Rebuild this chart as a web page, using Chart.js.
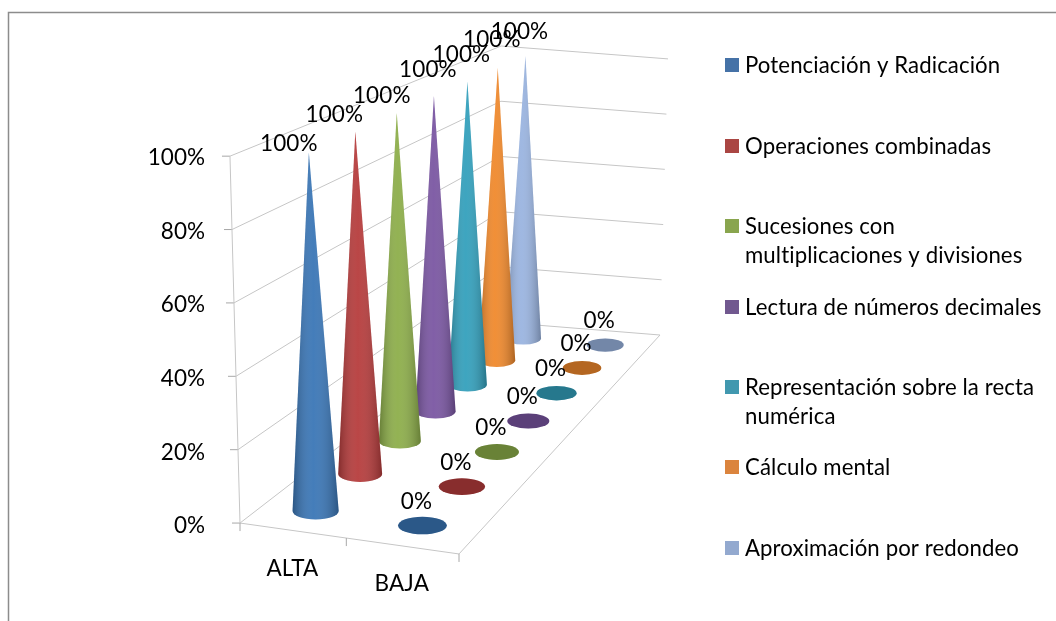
<!DOCTYPE html>
<html lang="es">
<head>
<meta charset="UTF-8">
<title>Cone chart</title>
<script src="https://cdn.jsdelivr.net/npm/chart.js"></script>
<style>
  html, body { margin: 0; padding: 0; background: #fff; }
  canvas { display: block; filter: blur(0.3px); }
</style>
</head>
<body>
<canvas id="myChart" width="1056" height="621"></canvas>
<script>
const categories = ['ALTA', 'BAJA'];
const seriesNames = [
  ['Potenciación y Radicación'],
  ['Operaciones combinadas'],
  ['Sucesiones con', 'multiplicaciones y divisiones'],
  ['Lectura de números decimales'],
  ['Representación sobre la recta', 'numérica'],
  ['Cálculo mental'],
  ['Aproximación por redondeo']
];
const altaValues = [100, 100, 100, 100, 100, 100, 100];
const bajaValues = [0, 0, 0, 0, 0, 0, 0];
const yTicks = [0, 20, 40, 60, 80, 100];

const coneColors = ['#3a76b6', '#b63c3c', '#8dae4a', '#7a56a2', '#33a0bc', '#f0892c', '#9ab4e0'];
const legendColors = ['#4572a7', '#aa4643', '#89a54e', '#71588f', '#4198af', '#db843d', '#93a9cf'];
const legendRows = [66, 147, 227, 308, 388, 468, 549];
// Excel moved the 100% labels by hand-ish amounts, so they get their own nudges
const topLabelNudge = [[-20, -9], [-21, -17], [-15, -17], [-6, -26], [-6, -27], [-6, -28], [-6, -24]];
const LABEL_FONT = '22.5px Lato';
const LEGEND_FONT = '22.2px Lato';

// box corners in scale units: plane axis for x, percent axis for y
const floorFrontLeft = [30, 0.8];
const floorFrontRight = [249, -7.6];
const floorBackRight = [450, 51.9];
const floorBackLeft = [290, 55.4];
const frontHeight = 99.7;   // how tall 100% is on the front corner, in percent units
const heightFalloff = 0.78; // walls shrink less with depth than the floor does
const leanPerUnit = 0.043;  // verticals fan out a little going up
const leanCenter = 263;

function buildFloor() {
  const [x0, y0] = floorFrontLeft, [x1, y1] = floorFrontRight, [x2, y2] = floorBackRight, [x3, y3] = floorBackLeft;
  const dx1 = x1 - x2, dx2 = x3 - x2, sx = x0 - x1 + x2 - x3;
  const dy1 = y1 - y2, dy2 = y3 - y2, sy = y0 - y1 + y2 - y3;
  const den = dx1 * dy2 - dy1 * dx2;
  const g = (sx * dy2 - dx2 * sy) / den;
  const h = (dx1 * sy - sx * dy1) / den;
  return { a: x1 - x0 + g * x1, b: x3 - x0 + h * x3, c: x0, d: y1 - y0 + g * y1, e: y3 - y0 + h * y3, f: y0, g, h };
}
const M = buildFloor();

// u: 0..2 along categories, v: 0..7 along series, pct: 0..100
function project(chart, u, v, pct) {
  const s = u / 2, t = v / 7, z = pct / 100;
  const w = M.g * s + M.h * t + 1;
  const fx = (M.a * s + M.b * t + M.c) / w;
  const fy = (M.d * s + M.e * t + M.f) / w;
  return {
    x: chart.scales.plane.getPixelForValue(fx + z * leanPerUnit * (fx - leanCenter)),
    y: chart.scales.y.getPixelForValue(fy + z * frontHeight * Math.pow(1 + M.h * t, -heightFalloff))
  };
}

// series sit a bit unevenly along the depth axis
function seriesDepth(j) {
  return 0.47 + j * 0.985;
}

function polyline(ctx, pts) {
  ctx.beginPath();
  pts.forEach((p, n) => n ? ctx.lineTo(p.x, p.y) : ctx.moveTo(p.x, p.y));
  ctx.stroke();
}

const conePlugin = {
  id: 'cones',
  beforeDatasetsDraw(chart) {
    const ctx = chart.ctx;
    ctx.save();
    // frame of the pasted picture
    ctx.strokeStyle = '#8c8c8c';
    ctx.lineWidth = 1.5;
    ctx.beginPath();
    ctx.moveTo(8.5, 621);
    ctx.lineTo(8.5, 12.5);
    ctx.lineTo(1056, 12.5);
    ctx.stroke();

    ctx.strokeStyle = '#c6c6c6';
    ctx.lineWidth = 1;
    yTicks.forEach(k => {
      polyline(ctx, [project(chart, 0, 0, k), project(chart, 0, 7, k), project(chart, 2, 7, k)]);
      const p = project(chart, 0, 0, k);
      ctx.strokeStyle = '#a8a8a8';
      polyline(ctx, [p, { x: p.x - 8, y: p.y }]);
      ctx.strokeStyle = '#c6c6c6';
    });
    polyline(ctx, [project(chart, 0, 0, 0), project(chart, 0, 0, 100)]);
    polyline(ctx, [project(chart, 0, 0, 0), project(chart, 2, 0, 0), project(chart, 2, 7, 0)]);
    ctx.strokeStyle = '#a8a8a8';
    [0, 1, 2].forEach(u => {
      const p = project(chart, u, 0, 0);
      polyline(ctx, [p, { x: p.x, y: p.y + 8 }]);
    });
    ctx.restore();
  },
  afterDatasetsDraw(chart) {
    const ctx = chart.ctx;
    ctx.save();
    const labels = [];
    for (let j = seriesNames.length - 1; j >= 0; j--) {
      const values = chart.data.datasets[j].data;
      const v = seriesDepth(j);
      values.forEach((val, i) => {
        const base = project(chart, i + 0.5, v, 0);
        const l = project(chart, i, v, 0), r = project(chart, i + 1, v, 0);
        const rx = 0.22 * Math.hypot(r.x - l.x, r.y - l.y);
        const ry = rx * 0.36;
        if (val > 0) {
          const tip = project(chart, i + 0.5, v, val);
          const path = () => {
            ctx.beginPath();
            ctx.moveTo(tip.x, tip.y);
            ctx.lineTo(base.x - rx, base.y);
            ctx.ellipse(base.x, base.y, rx, ry, 0, Math.PI, 0, true);
            ctx.closePath();
          };
          path();
          ctx.fillStyle = coneColors[j];
          ctx.fill();
          const shade = ctx.createLinearGradient(base.x - rx, 0, base.x + rx, 0);
          shade.addColorStop(0, 'rgba(0,0,0,0.28)');
          shade.addColorStop(0.45, 'rgba(255,255,255,0.05)');
          shade.addColorStop(1, 'rgba(0,0,0,0.28)');
          path();
          ctx.fillStyle = shade;
          ctx.fill();
          const n = topLabelNudge[j];
          labels.push([val + '%', tip.x + n[0], tip.y + n[1]]);
        } else {
          ctx.beginPath();
          ctx.ellipse(base.x, base.y, rx, ry, 0, 0, Math.PI * 2);
          ctx.fillStyle = coneColors[j];
          ctx.fill();
          ctx.fillStyle = 'rgba(0,0,0,0.25)';
          ctx.fill();
          labels.push([val + '%', base.x - 6, base.y - 24]);
        }
      });
    }
    ctx.fillStyle = '#000';
    ctx.font = LABEL_FONT;
    ctx.letterSpacing = '0.1px';
    ctx.textAlign = 'center';
    ctx.textBaseline = 'middle';
    labels.forEach(t => ctx.fillText(t[0], t[1], t[2]));

    // category names under the floor edge
    categories.forEach((name, i) => {
      const p = project(chart, i + 0.5, 0, 0);
      ctx.fillText(name, p.x, p.y + 38);
    });

    // legend rows are not evenly stepped in the original, so it is drawn here
    ctx.font = LEGEND_FONT;
    ctx.textAlign = 'left';
    seriesNames.forEach((lines, j) => {
      ctx.fillStyle = legendColors[j];
      ctx.fillRect(725, legendRows[j] - 8, 14, 14);
      ctx.fillStyle = '#000';
      lines.forEach((line, n) => ctx.fillText(line, 745, legendRows[j] + n * 28.5));
    });
    ctx.restore();
  }
};

Chart.defaults.font.family = 'Lato';
Chart.defaults.font.size = 22.5;
Chart.defaults.color = '#000';

const chart = new Chart(document.getElementById('myChart').getContext('2d'), {
  type: 'line',
  data: {
    labels: categories,
    datasets: seriesNames.map((name, j) => ({
      label: name.join(' '),
      data: [altaValues[j], bajaValues[j]],
      showLine: false,
      pointRadius: 0
    }))
  },
  plugins: [conePlugin],
  options: {
    responsive: false,
    animation: false,
    layout: { padding: { left: 130, right: 366, top: 158, bottom: 95 } },
    plugins: { legend: { display: false }, tooltip: { enabled: false } },
    scales: {
      x: { display: false },
      plane: { type: 'linear', axis: 'x', display: false, min: 0, max: 480 },
      y: {
        min: 0,
        max: 100,
        afterFit(scale) { scale.width = 80; },
        afterBuildTicks(scale) { scale.ticks = yTicks.map(v => ({ value: v })); },
        grid: { display: false, drawTicks: false },
        border: { display: false },
        ticks: { padding: 5, callback: v => v + '%' }
      }
    }
  }
});
</script>
</body>
</html>
